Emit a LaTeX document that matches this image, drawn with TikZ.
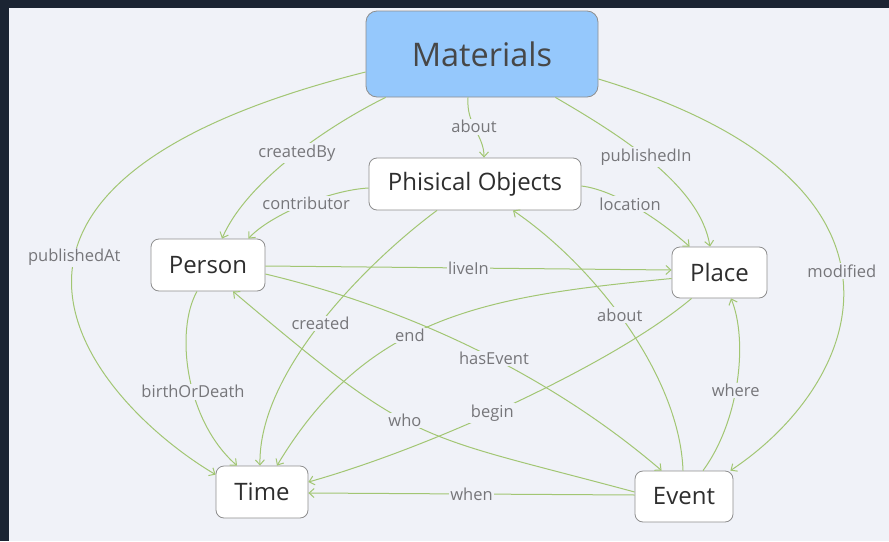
\documentclass[tikz,border=0pt]{standalone}
\usepackage{fontspec}
\setmainfont{Open Sans}
\usepackage{tikz}
\usepackage{xcolor}
\usetikzlibrary{positioning}
\usetikzlibrary{calc}
\usetikzlibrary{arrows.meta}
\usetikzlibrary{backgrounds}
\definecolor{darkbg}{HTML}{1B2433}
\definecolor{panel}{HTML}{F0F2F8}
\definecolor{matblue}{HTML}{95C8FC}
\definecolor{boxline}{HTML}{8E8E8E}
\definecolor{relgreen}{HTML}{A2C673}
\definecolor{labtext}{HTML}{76767A}
\definecolor{nodetext}{HTML}{2E2E2E}
\tikzset{ontograph/.style={x=1pt, y=-1pt,
font=\fontsize{24}{27}\selectfont, text=nodetext},
box/.style={draw=boxline, line width=0.8pt, fill=white, rounded corners=8pt, inner sep=0pt},
rel/.style={draw=relgreen, line width=1pt, -{Straight Barb[length=5pt,width=9pt]}},
lab/.style={fill=panel, text=labtext, font=\fontsize{16.5}{18}\selectfont, inner sep=1.5pt}}

\begin{document}
\begin{tikzpicture}[ontograph]
	\useasboundingbox (0,0) rectangle (889,541);
	\fill[darkbg] (0,0) rectangle (889,541);
	\fill[panel] (9,8) rectangle (889,541);

	\node[box, fill=matblue, rounded corners=11pt, minimum width=232pt, minimum height=86pt,
		font=\fontsize{32.5}{36}\selectfont, text=black!72] (mat) at (482,54) {Materials};
	\node[box, minimum width=212pt, minimum height=52pt] (obj) at (475,184) {Phisical Objects};
	\node[box, minimum width=114pt, minimum height=52pt] (per) at (208,265) {Person};
	\node[box, minimum width=95pt, minimum height=51pt] (pla) at (719.5,272.5) {Place};
	\node[box, minimum width=92pt, minimum height=52pt] (tim) at (262,492) {Time};
	\node[box, minimum width=98pt, minimum height=51pt] (evt) at (684,496.5) {Event};

	\draw[rel] ($(mat.south)+(-14,0)$) .. controls (466,125) and (484,135) .. ($(obj.north)+(9,0)$)
		node[lab, pos=0.45] {about};
	\draw[rel] ($(mat.south west)+(20,0)$) .. controls (320,130) and (245,185) .. ($(per.north)+(14,0)$)
		node[lab, pos=0.45] {createdBy};
	\draw[rel] ($(mat.west)+(0,18)$) .. controls (-97,188) and (95,403) .. ($(tim.north west)+(0,9)$)
		node[lab, pos=0.43] {publishedAt};
	\draw[rel] ($(mat.south east)+(-43,0)$) .. controls (620,135) and (700,185) .. ($(pla.north)+(-9.5,0)$)
		node[lab, pos=0.46] {publishedIn};
	\draw[rel] ($(mat.east)+(0,25)$) .. controls (940,182) and (865,381) .. ($(evt.north east)+(-3,0)$)
		node[lab, pos=0.48] {modified};

	\draw[rel] ($(obj.west)+(0,4)$) .. controls (330,190) and (270,215) .. ($(per.north east)+(-17,0)$)
		node[lab, pos=0.47] {contributor};
	\draw[rel] ($(obj.east)+(0,2)$) .. controls (615,190) and (660,220) .. ($(pla.north west)+(18,0)$)
		node[lab, pos=0.44] {location};
	\draw[rel] ($(obj.south)+(-38,0)$) .. controls (370,260) and (258,370) .. ($(tim.north)+(-2,0)$)
		node[lab, pos=0.51] {created};

	\draw[rel] ($(per.east)+(0,1)$) -- ($(pla.west)+(0,-2.5)$) node[lab, pos=0.5] {liveIn};
	\draw[rel] ($(per.east)+(0,9)$) .. controls (425,312) and (562,385) .. ($(evt.north west)+(27,0)$)
		node[lab, pos=0.52] {hasEvent};
	\draw[rel] ($(per.south)+(-11,0)$) .. controls (175,330) and (185,420) .. ($(tim.north)+(-25,0)$)
		node[lab, pos=0.58] {birthOrDeath};

	\draw[rel] ($(pla.west)+(0,6)$) .. controls (489,296) and (368,314) .. ($(tim.north)+(15,0)$)
		node[lab, pos=0.58] {end};
	\draw[rel] ($(pla.south west)+(20,0)$) .. controls (615,363) and (433,447) .. ($(tim.east)+(0,-10)$)
		node[lab, pos=0.56] {begin};

	\draw[rel] ($(evt.north)+(-1,0)$) .. controls (680,380) and (600,270) .. ($(obj.south)+(38,0)$)
		node[lab, pos=0.55] {about};
	\draw[rel] ($(evt.west)+(0,-4.5)$) .. controls (412,432) and (418,448) .. ($(per.south)+(25,0)$)
		node[lab, pos=0.55] {who};
	\draw[rel] ($(evt.north)+(19,0)$) .. controls (740,420) and (748,340) .. ($(pla.south)+(11.5,0)$)
		node[lab, pos=0.45] {where};
	\draw[rel] ($(evt.west)+(0,-1.5)$) -- ($(tim.east)+(0,1)$) node[lab, pos=0.5] {when};
\end{tikzpicture}
\end{document}
